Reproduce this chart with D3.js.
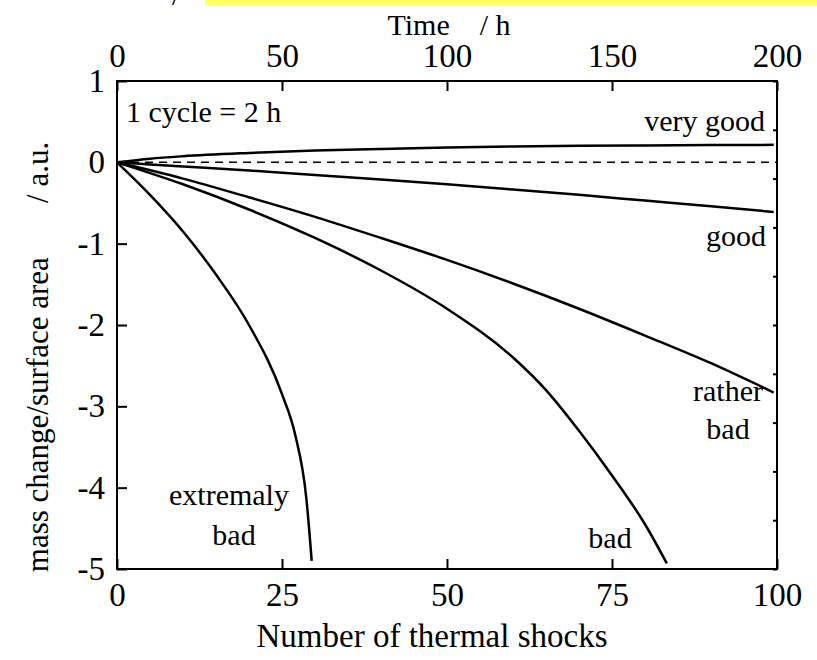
<!DOCTYPE html>
<html>
<head>
<meta charset="utf-8">
<script src="https://cdn.jsdelivr.net/npm/d3@7"></script>
<style>
  html, body { margin: 0; padding: 0; background: #fff; }
  svg { display: block; }
  text { font-family: "Liberation Serif", "Times New Roman", serif; fill: #000; }
</style>
</head>
<body>
<svg id="chart" width="817" height="660"></svg>
<script>
// Number of thermal shocks (bottom axis) and mass change per surface area
const shocksVeryGood = [0, 5, 10, 20, 30, 40, 50, 60, 70, 80, 90, 99.5];
const massVeryGood   = [0, 0.045, 0.075, 0.115, 0.145, 0.165, 0.182, 0.195, 0.203, 0.208, 0.212, 0.215];

const shocksGood = [0, 10, 20, 30, 40, 50, 60, 70, 80, 90, 99.5];
const massGood   = [0, -0.05, -0.1, -0.155, -0.21, -0.27, -0.335, -0.4, -0.47, -0.54, -0.61];

const shocksRatherBad = [0, 10, 20, 30, 40, 50, 60, 70, 80, 90, 99.5];
const massRatherBad   = [0, -0.2, -0.43, -0.67, -0.93, -1.2, -1.49, -1.8, -2.13, -2.47, -2.83];

const shocksBad = [0, 10, 20, 30, 40, 50, 60, 65, 70, 75, 80, 83.3];
const massBad   = [0, -0.27, -0.58, -0.93, -1.33, -1.8, -2.4, -2.8, -3.3, -3.85, -4.45, -4.93];

const shocksExtremelyBad = [0, 5, 10, 15, 20, 25, 27, 28.7, 29.5];
const massExtremelyBad   = [0, -0.4, -0.85, -1.38, -2.0, -2.85, -3.35, -4.14, -4.9];

const bottomTicks = [0, 25, 50, 75, 100];
const topTicks = [0, 50, 100, 150, 200];
const leftTicks = [1, 0, -1, -2, -3, -4, -5];

const svg = d3.select("#chart");
const plotL = 117, plotR = 777, plotT = 81, plotB = 569;
const FS = 30, FS_TICK = 33, FS_TITLE = 33;

const x = d3.scaleLinear().domain([0, 100]).range([plotL, plotR]);
const xTime = d3.scaleLinear().domain([0, 200]).range([plotL, plotR]);
const y = d3.scaleLinear().domain([-5, 1]).range([plotB, plotT]);
const yRight = d3.scaleLinear().domain([0, 10]).range([plotB, plotT]);

// highlight strip at the very top
svg.append("rect").attr("x", 205).attr("y", 0).attr("width", 612).attr("height", 5)
  .attr("fill", "#ffff66");
svg.append("text").attr("x", 172).attr("y", 5).attr("font-size", FS).text("/");

// frame
svg.append("rect").attr("x", plotL).attr("y", plotT)
  .attr("width", plotR - plotL).attr("height", plotB - plotT)
  .attr("fill", "none").attr("stroke", "#000").attr("stroke-width", 2);

// bottom axis: inward ticks, labels below
const gB = svg.append("g").attr("transform", `translate(0,${plotB})`)
  .call(d3.axisBottom(x).tickValues(bottomTicks).tickSize(-10).tickPadding(14).tickFormat(d3.format("d")));
// top axis
const gT = svg.append("g").attr("transform", `translate(0,${plotT})`)
  .call(d3.axisTop(xTime).tickValues(topTicks).tickSize(-10).tickPadding(14).tickFormat(d3.format("d")));
// left axis
const gL = svg.append("g").attr("transform", `translate(${plotL},0)`)
  .call(d3.axisLeft(y).tickValues(leftTicks).tickSize(-10).tickPadding(12).tickFormat(d3.format("d")));
// right axis: unlabeled short inward ticks
const gR = svg.append("g").attr("transform", `translate(${plotR},0)`)
  .call(d3.axisRight(yRight).ticks(10).tickSize(-4).tickFormat(""));

[gB, gT, gL, gR].forEach(g => {
  g.select(".domain").remove();
  g.selectAll(".tick line").attr("stroke", "#000").attr("stroke-width", 2);
  g.selectAll("text").attr("font-family", "Liberation Serif").attr("font-size", FS_TICK).attr("fill", "#000");
});
gL.selectAll(".tick text").text(d => d < 0 ? "-" + Math.abs(d) : d);

// axis titles
svg.append("text").attr("x", 449).attr("y", 35).attr("text-anchor", "middle")
  .attr("font-size", FS).attr("xml:space", "preserve").style("white-space", "pre")
  .text("Time    / h");
svg.append("text").attr("x", 432).attr("y", 647).attr("text-anchor", "middle")
  .attr("font-size", FS_TITLE).text("Number of thermal shocks");
svg.append("text").attr("transform", "translate(48,357) rotate(-90)").attr("text-anchor", "middle")
  .attr("font-size", 31).attr("xml:space", "preserve").style("white-space", "pre")
  .text("mass change/surface area       / a.u.");

// zero reference line
svg.append("line").attr("x1", x(0)).attr("x2", x(100)).attr("y1", y(0)).attr("y2", y(0))
  .attr("stroke", "#000").attr("stroke-width", 1.5).attr("stroke-dasharray", "8,6");

// curves
const line = d3.line().x(d => x(d[0])).y(d => y(d[1])).curve(d3.curveMonotoneX);
const series = [
  [shocksVeryGood, massVeryGood],
  [shocksGood, massGood],
  [shocksRatherBad, massRatherBad],
  [shocksBad, massBad],
  [shocksExtremelyBad, massExtremelyBad]
];
series.forEach(([xs, ys]) => {
  svg.append("path").datum(xs.map((v, i) => [v, ys[i]]))
    .attr("d", line).attr("fill", "none").attr("stroke", "#000").attr("stroke-width", 2.5);
});

// annotations
const notes = [
  { t: "1 cycle = 2 h", x: 126, y: 122, a: "start" },
  { t: "very good", x: 765, y: 131, a: "end" },
  { t: "good", x: 766, y: 246, a: "end" },
  { t: "rather", x: 728, y: 401, a: "middle" },
  { t: "bad", x: 728, y: 439, a: "middle" },
  { t: "extremaly", x: 229, y: 505, a: "middle" },
  { t: "bad", x: 234, y: 545, a: "middle" },
  { t: "bad", x: 610, y: 548, a: "middle" }
];
notes.forEach(n => {
  svg.append("text").attr("x", n.x).attr("y", n.y).attr("text-anchor", n.a)
    .attr("font-size", FS).text(n.t);
});
</script>
</body>
</html>
